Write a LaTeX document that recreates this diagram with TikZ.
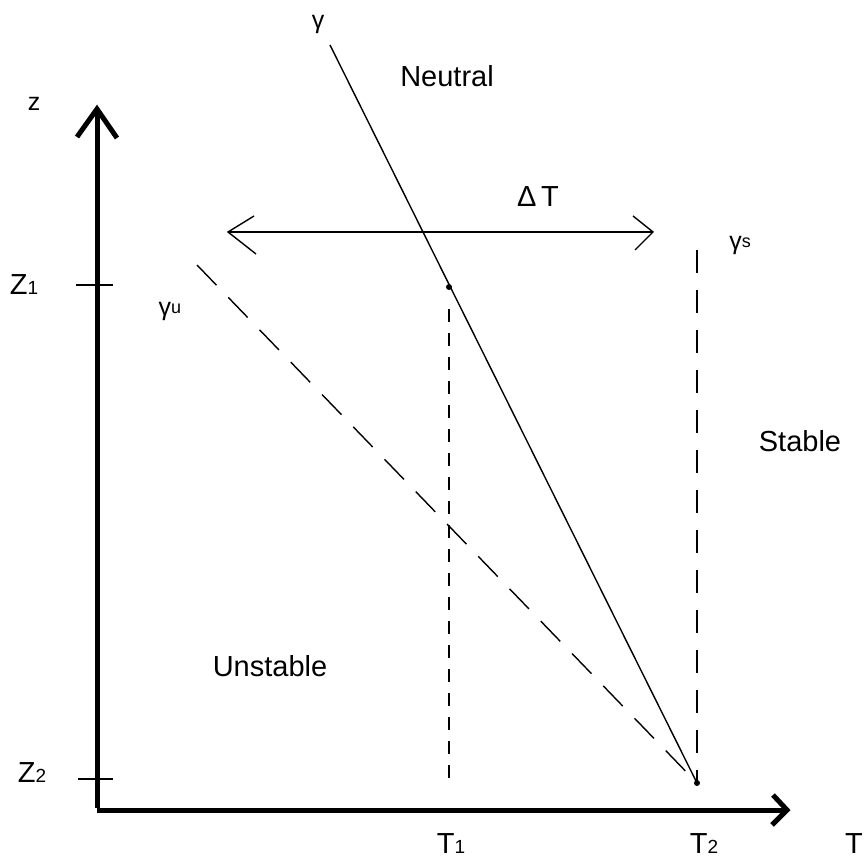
\documentclass[tikz,border=0pt]{standalone}
\usepackage{fontspec}
\setmainfont{Liberation Sans}
\begin{document}
\begin{tikzpicture}[x=1pt,y=-1pt,
  axis/.style={line width=5pt,line join=miter},
  thin/.style={line width=1.4pt},
  lbl/.style={inner sep=0pt,font=\fontsize{29}{34}\selectfont},
  dashA/.style={line width=1.5pt,dash pattern=on 13pt off 11pt},
  dashB/.style={line width=1.5pt,dash pattern=on 23pt off 17pt},
  dashC/.style={line width=1.4pt,dash pattern=on 28pt off 17pt},
  dotp/.style={circle,fill=black,inner sep=0pt,minimum size=6pt}]
\useasboundingbox (0,0) rectangle (864,858);
% coordinates
\coordinate (O) at (97,810);
\coordinate (Ztop) at (97,109);
\coordinate (Tend) at (787,810);
\node[dotp] (P1) at (449,287) {};
\node[dotp] (P2) at (697,783) {};
\coordinate (Gtop) at (330,45);
\coordinate (Gu) at (197,265);
\coordinate (Gs) at (697,250);
\coordinate (T1b) at (449,782);
% axes
\draw[axis] (97,808) -- (Ztop);
\draw[axis] (Ztop) ++(-20,28) -- (Ztop) -- ++(20,29);
\draw[axis] (O) -- (Tend);
\draw[axis] (Tend) ++(-14,-15) -- (Tend) -- ++(-15,15);
% ticks
\coordinate (Z1a) at (76,285); \coordinate (Z1b) at (113,285);
\coordinate (Z2a) at (78,779); \coordinate (Z2b) at (113,779);
\draw[thin] (Z1a) -- (Z1b);
\draw[thin] (Z2a) -- (Z2b);
% gamma line
\draw[thin] (Gtop) -- (P2.center);
% dashed
\draw[dashC] (Gu) -- (P2.center);
\draw[dashA] ([yshift=-22pt]P1.center) -- (T1b);
\draw[dashB] (Gs) -- (P2.center);
% Delta T arrow
\coordinate (DL) at (228,232);
\coordinate (DR) at (653,232);
\draw[thin] (DL) -- (DR);
\draw[thin] (DL) ++(26,-16) -- (DL) -- ++(28,22);
\draw[thin] (DR) ++(-20,-16) -- (DR) -- ++(-18,18);
% labels
\node[lbl,font=\fontsize{25}{30}\selectfont] (lz) at (34,104) {z};
\node[lbl] (lZ1) at (24,285) {Z\raisebox{0pt}{\fontsize{19}{22}\selectfont 1}};
\node[lbl] (lZ2) at (32,773) {Z\raisebox{0pt}{\fontsize{19}{22}\selectfont 2}};
\node[lbl,font=\fontsize{25}{30}\selectfont] (lg) at (318,24) {γ};
\node[lbl,font=\fontsize{25}{30}\selectfont] (lgu) at (170,311) {γ\raisebox{2pt}{\fontsize{18}{22}\selectfont u}};
\node[lbl,font=\fontsize{25}{30}\selectfont] (lgs) at (740,245) {γ\raisebox{2pt}{\fontsize{18}{22}\selectfont s}};
\node[lbl] (neutral) at (447,76) {Neutral};
\node[lbl] (dT) at (538,197) {Δ\,T};
\node[lbl] (stable) at (800,441) {Stable};
\node[lbl] (unstable) at (270,666) {Unstable};
\node[lbl,anchor=base] (lT1) at (451,853) {T\raisebox{0pt}{\fontsize{19}{22}\selectfont 1}};
\node[lbl,anchor=base] (lT2) at (704,853) {T\raisebox{0pt}{\fontsize{19}{22}\selectfont 2}};
\node[lbl,anchor=base west] (lT) at (845,853) {T};
\end{tikzpicture}
\end{document}
